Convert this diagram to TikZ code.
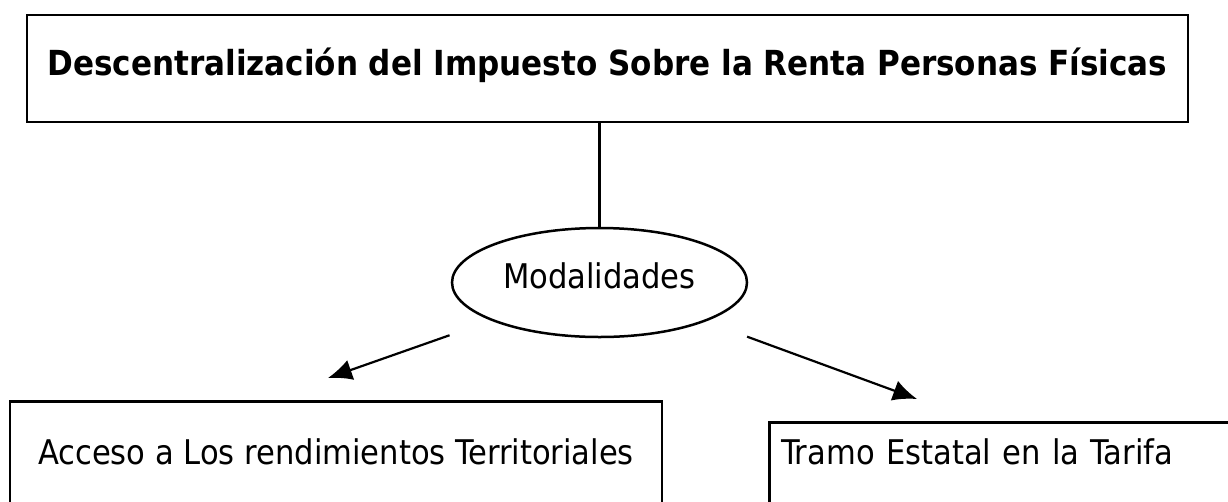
\documentclass[tikz,border=0pt]{standalone}
\usepackage{fontspec}
\IfFontExistsTF{DejaVu Sans Condensed}
  {\setmainfont{DejaVu Sans Condensed}}
  {\setmainfont{DejaVu Sans}[FakeStretch=0.9]}
\usetikzlibrary{arrows.meta,shapes.geometric}
\tikzset{
  caja/.style={draw, rectangle, line width=2.5pt, inner ysep=0pt},
  texto/.style={font=\fontsize{34}{40}\selectfont},
  flecha/.style={->, line width=2.2pt, shorten <=44pt},
}

\begin{document}
\begin{tikzpicture}[x=1pt, y=-1pt, >={Latex[length=24pt,width=21pt]}]
\useasboundingbox[fill=white] (0,0) rectangle (1228,501);
% titulo arriba
\node[caja, font=\fontsize{34.5}{40}\selectfont\bfseries, minimum width=1161pt, minimum height=107pt,
  text height=25pt, text depth=12pt] (titulo) at (607.5,68.5)
  {Descentralización del Impuesto Sobre la Renta Personas Físicas};
% elipse
\node[draw, ellipse, line width=2.5pt, texto, inner sep=0pt, minimum width=295pt, minimum height=109pt,
  text height=24pt, text depth=13pt] (modal) at (599.5,282.5) {Modalidades};
\draw[line width=2.5pt] (modal.north) -- (modal.north |- titulo.south);
% cajas de abajo
\node[caja, texto, anchor=north, minimum width=652pt, text height=63pt, text depth=70pt]
  (acceso) at (336,400) {Acceso a Los rendimientos Territoriales};
\node[caja, texto, anchor=north west, text width=476pt, inner xsep=12pt, align=left,
  text height=42pt, text depth=80pt] (tramo) at (768,421) {Tramo Estatal en la Tarifa};
% flechas
\coordinate (izq) at (328,378);
\coordinate (der) at (917,399);
\draw[flecha] (modal) -- (izq);
\draw[flecha] (modal) -- (der);
\end{tikzpicture}
\end{document}
